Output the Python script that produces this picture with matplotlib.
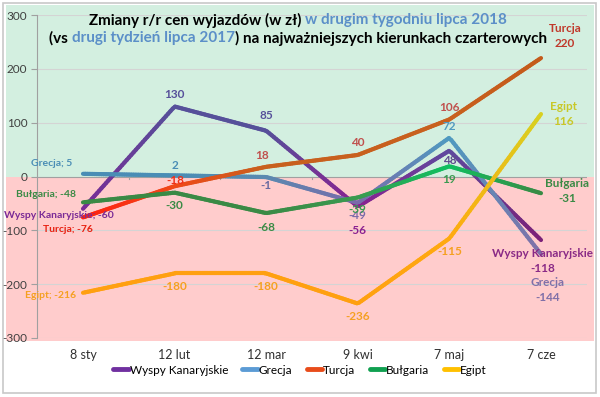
import numpy as np
import matplotlib
matplotlib.use("Agg")
import matplotlib.pyplot as plt
from matplotlib.collections import LineCollection
from matplotlib.colors import to_rgb
from matplotlib.patches import Rectangle

plt.rcParams['font.family'] = ['Lato', 'DejaVu Sans']

categories = ["8 sty", "12 lut", "12 mar", "9 kwi", "7 maj", "7 cze"]
wyspy = [-60, 130, 85, -56, 48, -118]
grecja = [5, 2, -1, -49, 72, -144]
turcja = [-76, -18, 18, 40, 106, 220]
bulgaria = [-48, -30, -68, -39, 19, -31]
egipt = [-216, -180, -180, -236, -115, 116]
series_names = ["Wyspy Kanaryjskie", "Grecja", "Turcja", "Bułgaria", "Egipt"]
yticks = [-300, -200, -100, 0, 100, 200, 300]

W, H = 600, 397
fig = plt.figure(figsize=(W / 100, H / 100), dpi=100)

def fx(px):
    return px / W

def fy(py):
    return 1 - py / H

# backgrounds
fig.patches.append(Rectangle((fx(3), fy(393)), fx(593), 390 / H, transform=fig.transFigure,
                             facecolor='white', edgecolor='#c8c8c8', lw=1.2, zorder=-10))
fig.patches.append(Rectangle((fx(6), fy(176.5)), fx(588), (176.5 - 5) / H, transform=fig.transFigure,
                             facecolor='#d3efe0', edgecolor='none', zorder=-9))
fig.patches.append(Rectangle((fx(6), fy(341)), fx(588), (341 - 176.5) / H, transform=fig.transFigure,
                             facecolor='#ffcccc', edgecolor='none', zorder=-9))

left, right, top, bottom = 37.2, 586.8, 15, 338
ax = fig.add_axes([fx(left), fy(bottom), fx(right - left), (bottom - top) / H])
ax.set_facecolor('none')
ax.set_xlim(-0.5, len(categories) - 0.5)
ax.set_ylim(-300, 300)
for s in ['top', 'right', 'bottom']:
    ax.spines[s].set_visible(False)
ax.spines['left'].set_color('#a0a0a0')
ax.spines['left'].set_linewidth(0.8)
ax.set_yticks(yticks)
ax.set_yticklabels([str(v) for v in yticks], fontsize=8.5, color='#404040')
ax.tick_params(axis='y', length=4, color='#a0a0a0', pad=3)
ax.set_xticks(range(len(categories)))
ax.set_xticklabels(categories, fontsize=9, color='#303030')
ax.tick_params(axis='x', length=0, pad=8)
for v in yticks:
    if v != 0:
        ax.axhline(v, color='#d4d4d4', lw=0.8, zorder=1)
ax.axhline(0, color='#a0a0a0', lw=0.8, zorder=1)
for b in np.arange(0.5, len(categories) - 0.5, 1):
    ax.plot([b, b], [0, -5], color='#a0a0a0', lw=0.8, zorder=1)

all_series = [wyspy, grecja, turcja, bulgaria, egipt]
point_colors = [
    ['#7a2a96', '#56509a', '#56509a', '#8a2090', '#5f4a9e', '#7b2078'],
    ['#4a8db5', '#4a8db5', '#5a8ab0', '#7a6aaa', '#4f9ac0', '#8070a8'],
    ['#ff2010', '#f04818', '#c8601e', '#c8601e', '#c8601e', '#c45a1a'],
    ['#3a8a45', '#3a8a45', '#3a8a45', '#3a9a50', '#10c060', '#3a8a45'],
    ['#ffa010', '#ffa010', '#ffa010', '#ffa010', '#ffaa10', '#d8d020'],
]
legend_colors = ['#7030a0', '#5b9bd5', '#e84c1a', '#10a050', '#ffc000']
x = np.arange(len(categories))
for k, (vals, cols) in enumerate(zip(all_series, point_colors)):
    xs = np.linspace(0, len(x) - 1, 200)
    ys = np.interp(xs, x, vals)
    pts = np.column_stack([xs, ys]).reshape(-1, 1, 2)
    segs = np.concatenate([pts[:-1], pts[1:]], axis=1)
    crgb = np.array([to_rgb(c) for c in cols])
    mid = (xs[:-1] + xs[1:]) / 2
    segc = np.column_stack([np.interp(mid, x, crgb[:, j]) for j in range(3)])
    lc = LineCollection(segs, colors=segc, linewidths=3.0, capstyle='round', joinstyle='round', zorder=3 + k)
    ax.add_collection(lc)

# data labels: (series index, point index, text, offset px, color, size)
labels = [
    (0, 0, "Wyspy Kanaryjskie; -60", (-24, -7), '#7a2a96', 7.5),
    (0, 1, "130", (0, 12), '#56509a', 8.5),
    (0, 2, "85", (0, 15), '#56509a', 8.5),
    (0, 3, "-56", (0, -24), '#8a2090', 8.5),
    (0, 4, "48", (0, -10), '#5f4a8e', 8.5),
    (0, 5, "Wyspy Kanaryjskie\n-118", (2, -21), '#8a2a86', 8.5),
    (1, 0, "Grecja; 5", (-31, 10), '#4a8db5', 7.5),
    (1, 1, "2", (0, 10), '#4a8db5', 8.5),
    (1, 2, "-1", (0, -8), '#6a6aa0', 8.5),
    (1, 3, "-49", (0, -13), '#7a6aaa', 8.5),
    (1, 4, "72", (0, 11), '#4f9ac0', 8.5),
    (1, 5, "Grecja\n-144", (7, -36), '#8070a8', 8.5),
    (2, 0, "Turcja; -76", (-15, -12), '#e82010', 7.5),
    (2, 1, "-18", (1, 6), '#f03018', 8.5),
    (2, 2, "18", (-4, 11), '#c0504d', 8.5),
    (2, 3, "40", (0, 12), '#c0504d', 8.5),
    (2, 4, "106", (0, 12), '#c0504d', 8.5),
    (2, 5, "Turcja\n220", (24, 22), '#c0392b', 8.5),
    (3, 0, "Bułgaria; -48", (-37, 8), '#3a8a45', 7.5),
    (3, 1, "-30", (0, -13), '#3a8a45', 8.5),
    (3, 2, "-68", (0, -14), '#3a8a45', 8.5),
    (3, 3, "-39", (0, -12), '#3a9a50', 8.5),
    (3, 4, "19", (0, -13), '#3a9a50', 8.5),
    (3, 5, "Bułgaria\n-31", (26, 2), '#3a8a45', 8.5),
    (4, 0, "Egipt; -216", (-32, -3), '#f5a020', 7.5),
    (4, 1, "-180", (0, -13), '#f5a020', 8.5),
    (4, 2, "-180", (0, -13), '#f5a020', 8.5),
    (4, 3, "-236", (0, -13), '#f5a020', 8.5),
    (4, 4, "-115", (0, -13), '#f5a020', 8.5),
    (4, 5, "Egipt\n116", (23, 0), '#c8c828', 8.5),
]
for si, pi, txt, off, col, fs in labels:
    ax.annotate(txt, (pi, all_series[si][pi]), xytext=off, textcoords='offset pixels',
                ha='center', va='center', fontsize=fs, fontweight='bold', color=col,
                linespacing=1.4, zorder=10, annotation_clip=False)

# legend
handles = [plt.Line2D([], [], color=c, lw=3.5, solid_capstyle='round') for c in legend_colors]
fig.legend(handles, series_names, loc='center', bbox_to_anchor=(0.5, fy(370)), ncol=5,
           frameon=False, fontsize=8.5, handlelength=1.3, handletextpad=0.1, columnspacing=1.2)

# title with mixed colours
renderer = fig.canvas.get_renderer()
def mixed_line(parts, y_px):
    texts = []
    for t, c in parts:
        tx = fig.text(0, fy(y_px), t, color=c, fontsize=11, fontweight='bold', va='center', ha='left',
                      zorder=20)
        texts.append(tx)
    widths = [tx.get_window_extent(renderer).width for tx in texts]
    total = sum(widths)
    start = 298 - total / 2
    for tx, w in zip(texts, widths):
        tx.set_x(start / W)
        start += w

blue = '#5b8fc8'
mixed_line([("Zmiany r/r cen wyjazdów (w zł) ", 'black'), ("w drugim tygodniu lipca 2018", blue)], 20)
mixed_line([("(vs ", 'black'), ("drugi tydzień lipca 2017", blue),
            (") na najważniejszych kierunkach czarterowych", 'black')], 38)

fig.savefig("out.png", dpi=100)
